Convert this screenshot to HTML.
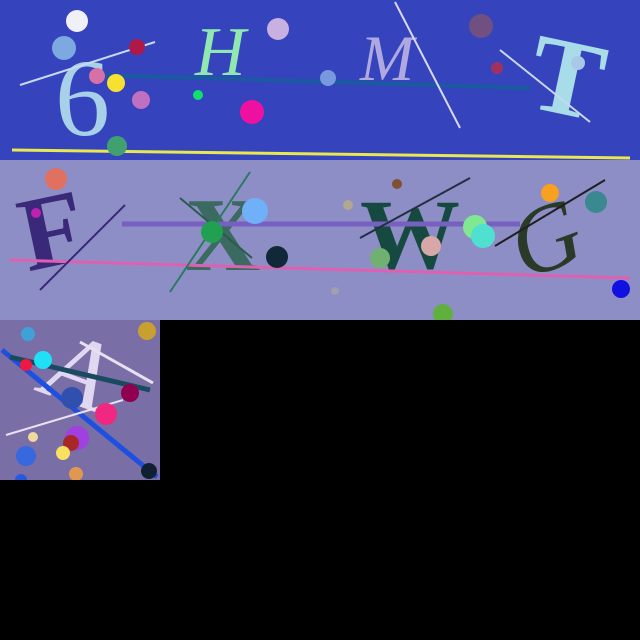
<!DOCTYPE html>
<html><head><meta charset="utf-8"><style>
html,body{margin:0;padding:0;background:#000;width:640px;height:640px;overflow:hidden}
svg{display:block}
text{font-family:"Liberation Serif",serif}
</style></head><body>
<svg id="s" width="640" height="640" viewBox="0 0 640 640">
<rect x="0" y="0" width="640" height="640" fill="#000"/>
<rect x="0" y="0" width="640" height="160" fill="#3543bd"/>
<rect x="0" y="160" width="640" height="160" fill="#8e8ec6"/>
<rect x="0" y="320" width="160" height="160" fill="#7a6ea6"/>
<g id="letters">
<text x="55" y="135" font-size="110" fill="#a8d0e8" font-family="Liberation Sans,sans-serif">6</text>
<text x="195" y="75" font-size="70" fill="#90e8b0" font-style="italic">H</text>
<text x="360" y="80" font-size="65" fill="#b0a8e0" font-style="italic">M</text>
<text x="530" y="115" font-size="110" fill="#a8dce8" font-family="Liberation Sans,sans-serif" font-weight="bold" transform="rotate(12 570 80)">T</text>
<text x="20" y="265" font-size="105" fill="#3a2878" font-family="Liberation Sans,sans-serif" font-weight="bold" transform="rotate(-12 55 230)">F</text>
<text x="185" y="270" font-size="105" fill="#3a6a60" font-family="Liberation Sans,sans-serif" font-weight="bold">X</text>
<text x="360" y="268" font-size="100" fill="#164a40" font-family="Liberation Sans,sans-serif" font-weight="bold">W</text>
<text x="510" y="270" font-size="95" fill="#2a3a28" font-style="italic" transform="rotate(-20 545 235)">G</text>
<text x="45" y="405" font-size="100" fill="#e0d8f0" font-style="italic" font-family="Liberation Sans,sans-serif" transform="rotate(20 80 380)">A</text>
</g>
</svg>
<script>
const lineX1=[12,100,20,395,500,10,122,170,360,495,40,180,2,10,80,6];
const lineY1=[150,75,85,2,50,260,224,292,238,246,290,198,350,357,342,435];
const lineX2=[630,530,155,460,590,630,520,250,470,605,125,252,157,150,153,123];
const lineY2=[158,88,42,128,122,278,224,172,178,180,205,258,477,390,383,400];
const lineC=["#e8e850","#1a5aa0","#c8d8f0","#d8d8f0","#c8d8f0","#e060b0","#7860c0","#2a7a60","#203040","#202020","#3a2878","#2a5a50","#1e50e0","#1a4a60","#e8e0f0","#e8e0f0"];
const lineW=[3,4,2,2,2,3,5,2,2,2,2,2,5,5,3,2];
const cx=[77,64,137,97,116,141,117,278,198,252,328,481,497,578,56,36,255,212,277,348,397,475,483,431,380,550,596,621,443,335,28,43,26,72,130,106,33,77,71,63,26,76,149,147,21];
const cy=[21,48,47,76,83,100,146,29,95,112,78,26,68,63,179,213,211,232,257,205,184,227,236,246,258,193,202,289,314,291,334,360,365,398,393,414,437,438,443,453,456,474,471,331,480];
const cr=[11,12,8,8,9,9,10,11,5,12,8,12,6,7,11,5,13,11,11,5,5,12,12,10,10,9,11,9,10,4,7,9,6,11,9,11,5,12,8,7,10,7,8,9,6];
const cc=["#f0f0f8","#7ea8e0","#b01848","#d870a8","#f8e030","#c070c0","#40a070","#c8b0e0","#10e070","#f010a0","#7898e0","#705080","#a03060","#a8c8e8","#e07060","#c020b0","#70b0f8","#20a050","#102838","#b0a890","#805030","#80e890","#50e0d0","#d8a8a8","#70b070","#f8a020","#3a8890","#1010e0","#60b040","#a0a0b0","#40a0d8","#20e0f8","#f01840","#3050b0","#900050","#f02880","#f0d8a0","#a040e0","#a82828","#f8e060","#3868e0","#e09850","#102030","#c8a030","#2858e0"];
const s=document.getElementById('s');
const ns='http://www.w3.org/2000/svg';
for(let i=0;i<lineX1.length;i++){
  const l=document.createElementNS(ns,'line');
  l.setAttribute('x1',lineX1[i]);l.setAttribute('y1',lineY1[i]);l.setAttribute('x2',lineX2[i]);l.setAttribute('y2',lineY2[i]);
  l.setAttribute('stroke',lineC[i]);l.setAttribute('stroke-width',lineW[i]);
  
  
  s.appendChild(l);
}
for(let i=0;i<cx.length;i++){
  const c=document.createElementNS(ns,'circle');
  c.setAttribute('cx',cx[i]);c.setAttribute('cy',cy[i]);c.setAttribute('r',cr[i]);c.setAttribute('fill',cc[i]);
  
  
  s.appendChild(c);
}
const m=document.createElementNS(ns,'path');
m.setAttribute('d','M160 320H640V640H0V480H160Z');
m.setAttribute('fill','#000');


s.appendChild(m);
</script>
</body></html>
